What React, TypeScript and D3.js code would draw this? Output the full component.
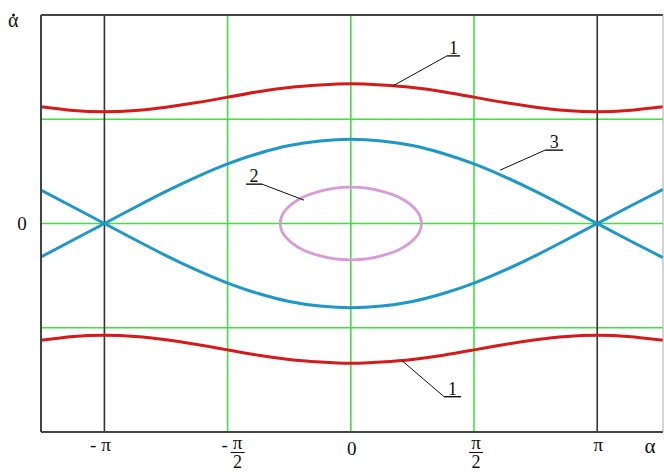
import React from "react";
import * as d3 from "d3";

// Phase portrait of a pendulum: angle α (in multiples of π) against angular velocity α̇.
const ALPHA_PI = [-1.257, -1.125, -1, -0.875, -0.75, -0.625, -0.5, -0.375, -0.25, -0.125, 0, 0.125, 0.25, 0.375, 0.5, 0.625, 0.75, 0.875, 1, 1.125, 1.267];
// Rotational motion (curve 1), upper and lower branches
const ROTATION_UPPER = [2.8, 2.71, 2.68, 2.71, 2.79, 2.9, 3.03, 3.16, 3.26, 3.32, 3.35, 3.32, 3.26, 3.16, 3.03, 2.9, 2.79, 2.71, 2.68, 2.71, 2.8];
const ROTATION_LOWER = [-2.8, -2.71, -2.68, -2.71, -2.79, -2.9, -3.03, -3.16, -3.26, -3.32, -3.35, -3.32, -3.26, -3.16, -3.03, -2.9, -2.79, -2.71, -2.68, -2.71, -2.8];
// Separatrix (curve 3), two crossing branches
const SEPARATRIX_A = [-0.8, -0.39, 0, 0.39, 0.77, 1.12, 1.43, 1.68, 1.87, 1.98, 2.02, 1.98, 1.87, 1.68, 1.43, 1.12, 0.77, 0.39, 0, -0.39, -0.82];
const SEPARATRIX_B = [0.8, 0.39, 0, -0.39, -0.77, -1.12, -1.43, -1.68, -1.87, -1.98, -2.02, -1.98, -1.87, -1.68, -1.43, -1.12, -0.77, -0.39, 0, 0.39, 0.82];
// Small oscillation (curve 2): α in radians, α̇ on the upper half
const OSC_ALPHA = [-0.9, -0.88, -0.85, -0.75, -0.6, -0.4, -0.2, 0, 0.2, 0.4, 0.6, 0.75, 0.85, 0.88, 0.9];
const OSC_UPPER = [0, 0.18, 0.28, 0.47, 0.64, 0.77, 0.85, 0.87, 0.85, 0.77, 0.64, 0.47, 0.28, 0.18, 0];

// Grid
const GRID_X_PI = [-0.5, 0, 0.5];
const AXIS_X_PI = [-1, 1];
const GRID_Y = [-2.5, 0, 2.5];
const X_TICKS_PI = [-1, -0.5, 0, 0.5, 1];
const X_TICK_LABELS = ["-π", "-π/2", "0", "π/2", "π"];
const Y_TICKS = [0];
const Y_TICK_LABELS = ["0"];

// Callouts: label, anchor point on the curve (α in π units, α̇)
const CALLOUT_LABELS = ["1", "1", "2", "3"];
const CALLOUT_ALPHA_PI = [0.171, 0.208, -0.19, 0.606];
const CALLOUT_VALUE = [3.3, -3.29, 0.56, 1.28];

const W = 664;
const H = 472;
const LEFT = 41;
const RIGHT = 663;
const TOP = 15;
const BOTTOM = 432;

const RED = "#d41a1a";
const BLUE = "#1e98c8";
const PINK = "#d89ad8";
const GREEN = "#44dd44";
const FONT = "'Liberation Serif', 'Times New Roman', serif";

export default function App() {
  const x = d3.scaleLinear().domain([-3.95, 3.98]).range([LEFT, RIGHT]);
  const y = d3.scaleLinear().domain([-5, 5]).range([BOTTOM, TOP]);
  const xp = (p: number) => x(p * Math.PI);

  const line = d3
    .line<[number, number]>()
    .x((d) => x(d[0]))
    .y((d) => y(d[1]))
    .curve(d3.curveNatural);

  const series = (vals: number[]) =>
    line(ALPHA_PI.map((a, i) => [a * Math.PI, vals[i]] as [number, number])) || "";

  const loopPts: [number, number][] = [
    ...OSC_ALPHA.map((a, i) => [a, OSC_UPPER[i]] as [number, number]),
    ...OSC_ALPHA.slice(1, -1)
      .map((a, i) => [a, -OSC_UPPER[i + 1]] as [number, number])
      .reverse(),
  ];
  const loop =
    d3
      .line<[number, number]>()
      .x((d) => x(d[0]))
      .y((d) => y(d[1]))
      .curve(d3.curveCatmullRomClosed.alpha(0.5))(loopPts) || "";

  // leader geometry relative to the anchor: offset to the underline's start, underline length, direction
  const calloutGeom = [
    { dx: 54, dy: -30, len: 13, left: false },
    { dx: 42, dy: 36, len: 17, left: false },
    { dx: -42, dy: -16, len: 16, left: true },
    { dx: 45, dy: -20, len: 18, left: false },
  ];

  return (
    <svg width={W} height={H} style={{ display: "block", position: "absolute", left: 0, top: 0 }}>
      <rect x={0} y={0} width={W} height={H} fill="#ffffff" />
      {GRID_X_PI.map((g) => (
        <line key={"gx" + g} x1={xp(g)} x2={xp(g)} y1={TOP} y2={BOTTOM} stroke={GREEN} strokeWidth={1.6} />
      ))}
      {GRID_Y.map((g) => (
        <line key={"gy" + g} x1={LEFT} x2={RIGHT} y1={y(g)} y2={y(g)} stroke={GREEN} strokeWidth={1.6} />
      ))}
      {AXIS_X_PI.map((g) => (
        <line key={"ax" + g} x1={xp(g)} x2={xp(g)} y1={TOP} y2={BOTTOM} stroke="#333" strokeWidth={1.6} />
      ))}

      <path d={series(ROTATION_UPPER)} fill="none" stroke={RED} strokeWidth={3} />
      <path d={series(ROTATION_LOWER)} fill="none" stroke={RED} strokeWidth={3} />
      <path d={series(SEPARATRIX_A)} fill="none" stroke={BLUE} strokeWidth={3} />
      <path d={series(SEPARATRIX_B)} fill="none" stroke={BLUE} strokeWidth={3} />
      <path d={loop} fill="none" stroke={PINK} strokeWidth={2.8} />

      {/* frame */}
      <line x1={LEFT} x2={RIGHT} y1={TOP} y2={TOP} stroke="#444" strokeWidth={2} />
      <line x1={LEFT} x2={RIGHT} y1={BOTTOM} y2={BOTTOM} stroke="#444" strokeWidth={2} />
      <line x1={LEFT} x2={LEFT} y1={TOP} y2={BOTTOM} stroke="#444" strokeWidth={2} />
      <line x1={RIGHT} x2={RIGHT} y1={TOP} y2={BOTTOM} stroke="#aaa" strokeWidth={1} />

      {/* callouts */}
      {CALLOUT_LABELS.map((lab, i) => {
        const ax = xp(CALLOUT_ALPHA_PI[i]);
        const ay = y(CALLOUT_VALUE[i]);
        const g = calloutGeom[i];
        const ux = ax + g.dx;
        const uy = ay + g.dy;
        const ux2 = g.left ? ux - g.len : ux + g.len;
        return (
          <g key={"c" + i}>
            <line x1={ax} y1={ay} x2={ux} y2={uy} stroke="#111" strokeWidth={1} />
            <line x1={ux} y1={uy} x2={ux2} y2={uy} stroke="#111" strokeWidth={1.4} />
            <text x={(ux + ux2) / 2} y={uy - 2} textAnchor="middle" fontFamily={FONT} fontSize={18} fill="#111">
              {lab}
            </text>
          </g>
        );
      })}

      {/* y axis label and tick */}
      <text x={8} y={27} fontFamily={FONT} fontSize={20} fill="#111">α</text>
      <circle cx={13.5} cy={15} r={1.5} fill="#111" />
      {Y_TICKS.map((t, i) => (
        <text key={"yt" + t} x={22} y={y(t) + 6.5} textAnchor="middle" fontFamily={FONT} fontSize={19} fill="#111">
          {Y_TICK_LABELS[i]}
        </text>
      ))}

      {/* x ticks */}
      {X_TICKS_PI.map((t, i) => {
        const lab = X_TICK_LABELS[i];
        const cx = xp(t);
        if (lab.includes("/")) {
          const neg = lab.startsWith("-");
          const [num, den] = lab.replace("-", "").split("/");
          const fx = neg ? cx + 10 : cx + 2;
          return (
            <g key={"xt" + t}>
              {neg && (
                <text x={cx - 3} y={451} textAnchor="middle" fontFamily={FONT} fontSize={19} fill="#111">-</text>
              )}
              <text x={fx} y={449} textAnchor="middle" fontFamily={FONT} fontSize={19} fill="#111">{num}</text>
              <line x1={fx - 7} x2={fx + 7} y1={452.5} y2={452.5} stroke="#111" strokeWidth={1} />
              <text x={fx} y={468} textAnchor="middle" fontFamily={FONT} fontSize={18} fill="#111">{den}</text>
            </g>
          );
        }
        if (lab.startsWith("-")) {
          return (
            <text key={"xt" + t} x={cx - 4} y={451} textAnchor="middle" fontFamily={FONT} fontSize={19} fill="#111">
              {"- " + lab.slice(1)}
            </text>
          );
        }
        return (
          <text key={"xt" + t} x={cx + 1} y={lab === "0" ? 455 : 451} textAnchor="middle" fontFamily={FONT} fontSize={19} fill="#111">
            {lab}
          </text>
        );
      })}
      <text x={650} y={453} textAnchor="middle" fontFamily={FONT} fontSize={21} fill="#111">α</text>
    </svg>
  );
}
